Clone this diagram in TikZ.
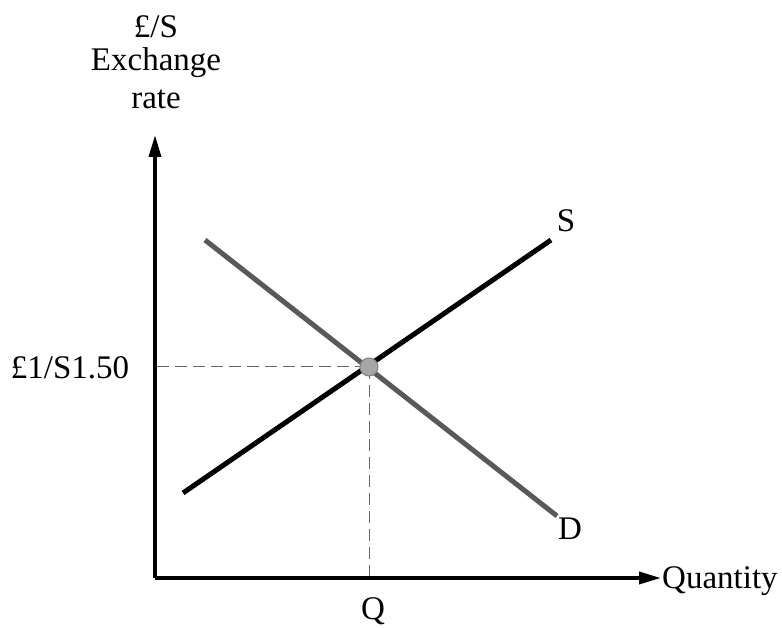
\documentclass[tikz,border=0pt]{standalone}
\usepackage{fontspec}
\setmainfont{Liberation Serif}
\usetikzlibrary{arrows.meta}
\begin{document}
\begin{tikzpicture}[x=1pt,y=-1pt,
  lbl/.style={font=\fontsize{33}{38}\selectfont, inner sep=0pt},
  axis/.style={line width=3.5pt, -{Triangle[length=22pt,width=12pt]}},
  curveS/.style={line width=5pt, black},
  curveD/.style={line width=5pt, black!65},
  guide/.style={line width=1pt, black!60, dash pattern=on 12pt off 6pt}]
\useasboundingbox (0,0) rectangle (782,628);
\coordinate (O) at (155,578);
\coordinate (Ytop) at (155,135);
\coordinate (Xend) at (661,578);
\coordinate (S1) at (183,493);
\coordinate (S2) at (551,240);
\coordinate (D1) at (205,240);
\coordinate (D2) at (557,516);
\coordinate (E) at (369,367);
\coordinate (Ey) at (157,367);
\coordinate (Ex) at (369,578);
\draw[guide] (Ey) -- (E);
\draw[guide] (E) -- (Ex);
\draw[axis] (O) -- (Ytop);
\draw[axis] (O) -- (Xend);
\draw[curveD] (D1) -- (D2);
\draw[curveS] (S1) -- (S2);
\node[circle, fill=black!35, draw=black!50, line width=1pt, minimum size=18pt, inner sep=0pt] (eq) at (E) {};
\node[lbl] (t1) at (156,27) {£/S};
\node[lbl] (t2) at (156,63) {Exchange};
\node[lbl] (t3) at (156,99) {rate};
\node[lbl] (sl) at (566,221) {S};
\node[lbl] (dl) at (570,529) {D};
\node[lbl] (pl) at (70,368) {£1/S1.50};
\node[lbl] (ql) at (373,611) {Q};
\node[lbl, anchor=west] (xl) at (662,581) {Quantity};
\end{tikzpicture}
\end{document}
